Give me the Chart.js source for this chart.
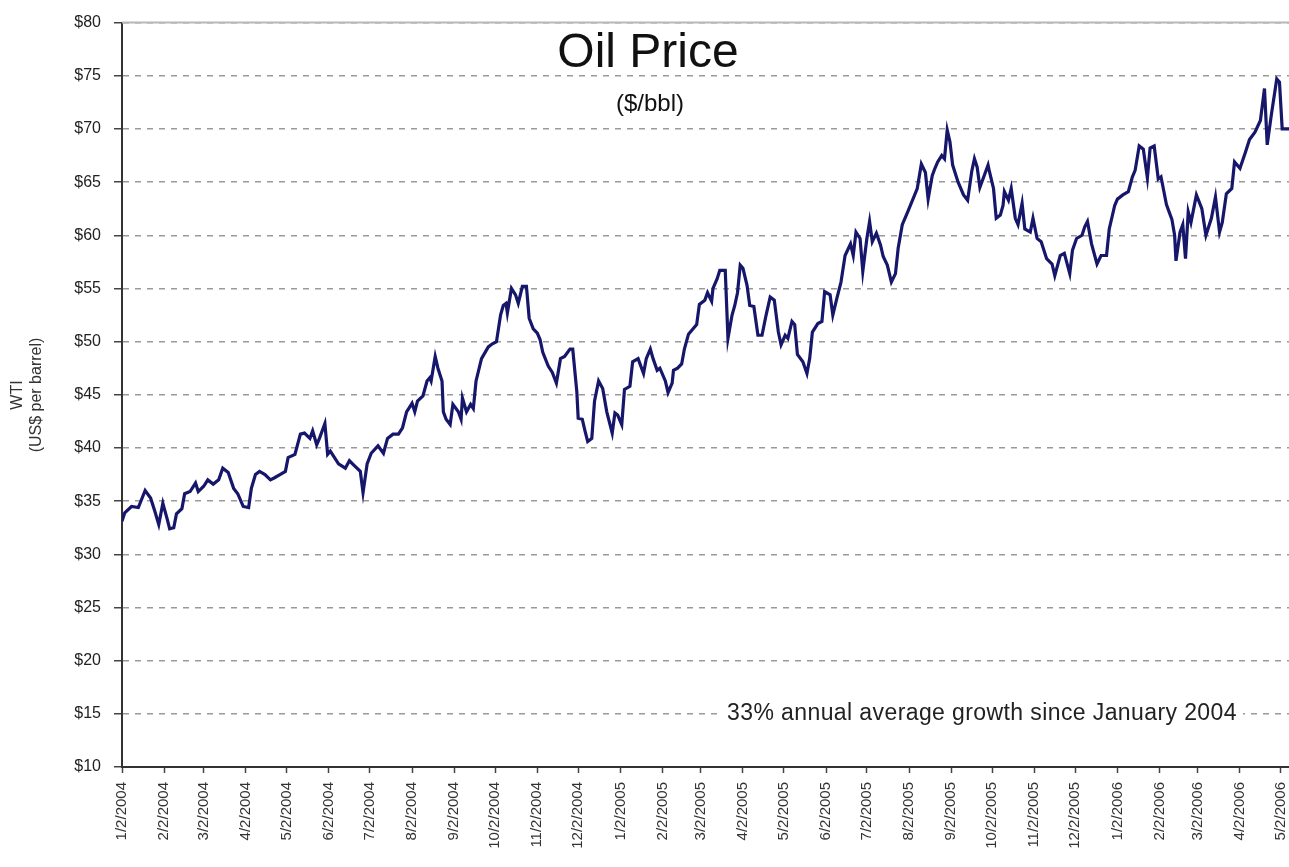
<!DOCTYPE html>
<html>
<head>
<meta charset="utf-8">
<title>Oil Price</title>
<script src="https://cdn.jsdelivr.net/npm/chart.js@4.4.1/dist/chart.umd.min.js"></script>
<style>
  html, body { margin: 0; padding: 0; background: #fff; }
  #wrap { width: 1289px; height: 867px; }
</style>
</head>
<body>
<div id="wrap"><canvas id="oilChart" width="1289" height="867"></canvas></div>
<script>
// WTI spot price, US$ per barrel. Days are counted from 1/2/2004.
const dayOffsets = [
  0, 2, 7, 12, 17, 21, 24, 27, 30, 33, 35, 38, 40, 44, 46, 50, 54, 56, 60, 63,
  67, 71, 74, 78, 82, 85, 89, 93, 95, 98, 101, 105, 109, 112, 116, 120, 122, 127, 131, 134,
  138, 140, 143, 145, 149, 151, 153, 159, 164, 167, 171, 175, 177, 180, 183, 188, 192, 195, 199, 203,
  206, 209, 213, 215, 217, 221, 224, 226, 227, 230, 232, 235, 236, 238, 241, 243, 247, 249, 250, 253,
  256, 258, 260, 264, 269, 272, 275, 278, 280, 282, 283, 286, 289, 291, 294, 297, 299, 302, 305, 307,
  309, 313, 316, 319, 322, 325, 329, 331, 334, 335, 338, 340, 342, 345, 347, 350, 353, 356, 360, 362,
  364, 367, 369, 373, 375, 379, 383, 385, 388, 390, 393, 395, 399, 401, 404, 405, 408, 411, 413, 416,
  418, 422, 424, 428, 430, 433, 434, 437, 439, 443, 445, 448, 450, 452, 454, 456, 459, 461, 464, 467,
  470, 473, 476, 479, 482, 484, 487, 489, 492, 494, 496, 500, 503, 505, 507, 511, 514, 516, 520, 522,
  525, 528, 531, 535, 537, 539, 542, 544, 547, 549, 551, 554, 557, 559, 562, 565, 568, 570, 573, 577,
  584, 587, 590, 592, 595, 597, 599, 602, 604, 606, 608, 610, 614, 618, 621, 624, 626, 628, 630, 634,
  636, 637, 640, 642, 645, 647, 648, 651, 653, 656, 658, 661, 663, 667, 669, 672, 675, 679, 683, 685,
  689, 692, 696, 698, 701, 705, 707, 709, 712, 716, 719, 723, 725, 729, 731, 735, 739, 742, 744, 747,
  750, 753, 755, 758, 761, 763, 767, 771, 773, 774, 777, 779, 781, 783, 785, 789, 793, 796, 800, 803,
  806, 808, 811, 815, 817, 821, 825, 828, 832, 836, 839, 841, 844, 848, 850, 852, 857
];
const wtiPrices = [
  33.1, 33.9, 34.5, 34.4, 36.0, 35.3, 34.1, 32.8, 34.8, 33.4, 32.4, 32.5, 33.8, 34.3, 35.7, 35.9, 36.7, 35.9, 36.4, 37.0,
  36.6, 37.0, 38.1, 37.7, 36.2, 35.7, 34.5, 34.4, 36.2, 37.5, 37.8, 37.5, 37.0, 37.2, 37.5, 37.8, 39.1, 39.4, 41.3, 41.4,
  40.9, 41.6, 40.3, 40.9, 42.3, 39.4, 39.7, 38.5, 38.1, 38.8, 38.3, 37.8, 35.8, 38.5, 39.5, 40.2, 39.5, 40.9, 41.3, 41.3,
  41.9, 43.4, 44.2, 43.4, 44.4, 44.9, 46.3, 46.6, 46.3, 48.6, 47.5, 46.3, 43.4, 42.7, 42.2, 44.1, 43.4, 42.7, 44.7, 43.4,
  44.1, 43.7, 46.3, 48.4, 49.5, 49.8, 50.0, 52.5, 53.4, 53.6, 52.7, 55.0, 54.4, 53.6, 55.2, 55.2, 52.2, 51.2, 50.8, 50.2,
  49.0, 47.7, 47.1, 46.1, 48.4, 48.6, 49.3, 49.3, 45.3, 42.8, 42.7, 41.6, 40.6, 40.9, 44.4, 46.3, 45.6, 43.4, 41.4, 43.3,
  43.1, 42.2, 45.5, 45.8, 48.1, 48.4, 47.0, 48.4, 49.3, 48.4, 47.3, 47.5, 46.3, 45.2, 46.1, 47.3, 47.5, 47.9, 49.3, 50.7,
  51.0, 51.6, 53.5, 53.9, 54.6, 53.8, 55.0, 55.9, 56.7, 56.7, 50.3, 52.5, 53.4, 54.6, 57.2, 56.9, 55.3, 53.4, 53.3, 50.6,
  50.6, 52.5, 54.2, 53.9, 50.9, 49.7, 50.6, 50.3, 51.9, 51.6, 48.8, 48.1, 47.0, 48.4, 50.9, 51.7, 51.9, 54.7, 54.4, 52.5,
  54.1, 55.6, 58.1, 59.2, 58.1, 60.3, 59.7, 56.6, 59.7, 61.3, 59.4, 60.2, 59.1, 58.0, 57.2, 55.6, 56.4, 58.8, 61.0, 62.2,
  64.4, 66.7, 65.9, 63.4, 65.6, 66.3, 66.9, 67.5, 67.2, 69.9, 68.8, 66.6, 65.0, 63.8, 63.3, 66.0, 67.2, 66.4, 64.5, 65.9,
  66.6, 66.0, 64.4, 61.6, 61.9, 62.8, 64.1, 63.3, 64.4, 61.6, 61.0, 63.0, 60.6, 60.3, 61.6, 59.7, 59.4, 57.8, 57.3, 56.2,
  58.1, 58.3, 56.4, 58.6, 59.7, 60.0, 60.8, 61.3, 59.2, 57.3, 58.1, 58.1, 60.6, 62.8, 63.4, 63.8, 64.1, 65.5, 66.1, 68.4,
  68.1, 65.4, 68.2, 68.4, 65.3, 65.5, 62.9, 61.5, 60.0, 57.6, 60.3, 61.0, 57.8, 62.2, 61.2, 63.8, 62.5, 60.0, 61.6, 63.6,
  60.3, 61.2, 63.9, 64.4, 66.9, 66.3, 67.8, 69.0, 69.7, 70.8, 73.8, 68.5, 71.3, 74.7, 74.4, 70.0, 70.0
];

// month ticks on the date axis (day offsets from 1/2/2004)
const monthTickDays = [
  0, 31, 60, 91, 121, 152, 182, 213, 244, 274, 305, 335,
  366, 397, 425, 456, 486, 517, 547, 578, 609, 639, 670, 700,
  731, 762, 790, 821, 851
];
const monthTickLabels = [
  '1/2/2004', '2/2/2004', '3/2/2004', '4/2/2004', '5/2/2004', '6/2/2004', '7/2/2004', '8/2/2004',
  '9/2/2004', '10/2/2004', '11/2/2004', '12/2/2004', '1/2/2005', '2/2/2005', '3/2/2005', '4/2/2005',
  '5/2/2005', '6/2/2005', '7/2/2005', '8/2/2005', '9/2/2005', '10/2/2005', '11/2/2005', '12/2/2005',
  '1/2/2006', '2/2/2006', '3/2/2006', '4/2/2006', '5/2/2006'
];
const priceMin = 10;
const priceMax = 80;
const priceStep = 5;

const FONT = '"Liberation Sans", Arial, sans-serif';

const points = dayOffsets.map((d, i) => ({ x: d, y: wtiPrices[i] }));

// titles, axis caption and the growth note
const chartText = {
  id: 'chartText',
  afterDraw(chart) {
    const ctx = chart.ctx;
    const area = chart.chartArea;
    const yScale = chart.scales.y;
    ctx.save();

    // solid frame line along the top
    ctx.strokeStyle = '#b8b8b8';
    ctx.lineWidth = 2;
    ctx.beginPath();
    ctx.moveTo(area.left, area.top);
    ctx.lineTo(area.right, area.top);
    ctx.stroke();

    ctx.fillStyle = '#111';
    ctx.textAlign = 'center';
    ctx.textBaseline = 'middle';
    ctx.font = '48px ' + FONT;
    ctx.fillText('Oil Price', 648, 54);
    ctx.font = '24px ' + FONT;
    ctx.fillText('($/bbl)', 650, 104);

    // note sits on the $15 line
    const noteY = yScale.getPixelForValue(15);
    const note = '33% annual average growth since January 2004';
    ctx.font = '23px ' + FONT;
    ctx.letterSpacing = '0.4px';
    const w = ctx.measureText(note).width;
    ctx.fillStyle = '#fff';
    ctx.fillRect(982 - w / 2 - 6, noteY - 13, w + 12, 26);
    ctx.fillStyle = '#222';
    ctx.fillText(note, 982, noteY);
    ctx.letterSpacing = '0px';

    // rotated y-axis caption
    ctx.translate(0, 395);
    ctx.rotate(-Math.PI / 2);
    ctx.font = '16px ' + FONT;
    ctx.fillStyle = '#333';
    ctx.fillText('WTI', 0, 18);
    ctx.fillText('(US$ per barrel)', 0, 37);
    ctx.restore();
  }
};

new Chart(document.getElementById('oilChart'), {
  type: 'line',
  data: {
    datasets: [{
      data: points,
      borderColor: '#16166a',
      borderWidth: 3.2,
      pointRadius: 0,
      tension: 0,
      fill: false
    }]
  },
  options: {
    responsive: false,
    animation: false,
    layout: { padding: { top: 20, left: 0, right: 0, bottom: 0 } },
    plugins: {
      legend: { display: false },
      tooltip: { enabled: false }
    },
    scales: {
      x: {
        type: 'linear',
        min: 0,
        max: 857,
        afterBuildTicks: scale => {
          scale.ticks = monthTickDays.map(v => ({ value: v }));
        },
        afterFit: scale => {
          scale.height = 100;
          scale.paddingLeft = 0;
          scale.paddingRight = 0;
        },
        ticks: {
          autoSkip: false,
          minRotation: 90,
          maxRotation: 90,
          padding: 9,
          color: '#333',
          font: { family: FONT, size: 15 },
          callback: (value, index) => monthTickLabels[index]
        },
        grid: {
          drawOnChartArea: false,
          drawTicks: true,
          tickLength: 6,
          tickColor: '#444',
          tickWidth: 1.5
        },
        border: { display: true, color: '#333', width: 2 }
      },
      y: {
        min: priceMin,
        max: priceMax,
        afterFit: scale => { scale.width = 122; },
        ticks: {
          stepSize: priceStep,
          padding: 13,
          color: '#222',
          font: { family: FONT, size: 16 },
          callback: v => '$' + v
        },
        grid: {
          color: '#9a9a9a',
          lineWidth: 1.5,
          tickLength: 8,
          tickColor: '#444',
          tickWidth: 1.5,
          drawTicks: true
        },
        border: { display: true, color: '#333', width: 2, dash: [6, 6] }
      }
    }
  },
  plugins: [chartText]
});
</script>
</body>
</html>
